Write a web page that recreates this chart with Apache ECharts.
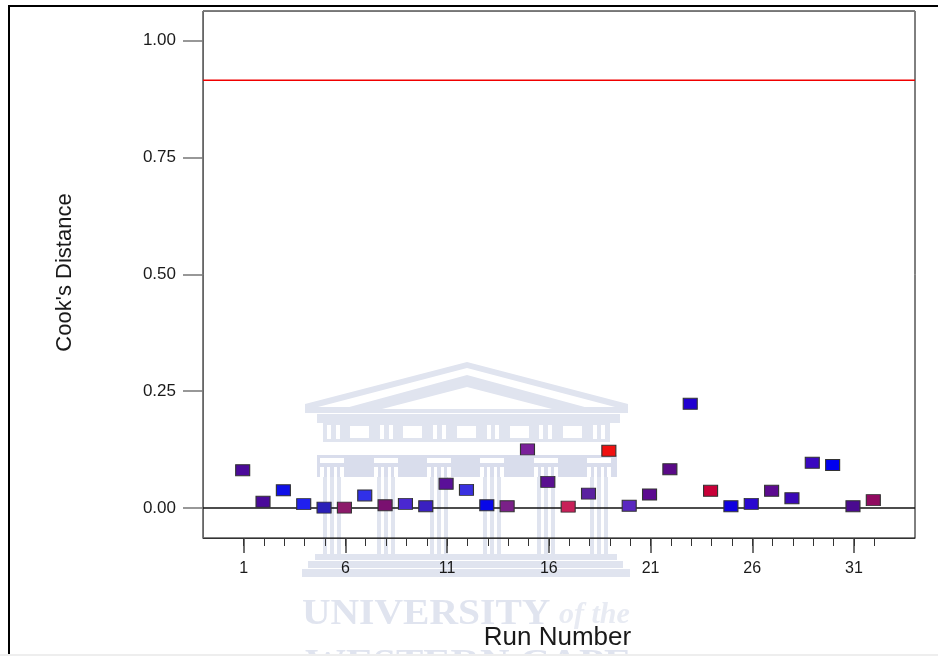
<!DOCTYPE html>
<html>
<head>
<meta charset="utf-8">
<style>html,body{margin:0;padding:0;background:#fff}#c{width:938px;height:656px}</style>
<script src="https://cdn.jsdelivr.net/npm/echarts@6/dist/echarts.min.js"></script>
</head>
<body>
<div id="c"></div>
<script>
const runs = Array.from({length: 32}, (_, i) => i + 1);
const cooks = [0.081,0.0135,0.038,0.0085,0.001,0.001,0.027,0.006,0.009,0.004,0.052,0.039,0.006,0.004,0.1255,0.056,0.003,0.031,0.1226,0.005,0.029,0.083,0.223,0.037,0.004,0.009,0.037,0.021,0.097,0.092,0.004,0.017];
const colours = ['#4b0a9a','#4a0a9a','#1010e8','#2020f0','#2a20b8','#8c1a6a','#3030e8','#7a1070','#4a28d0','#3a20c0','#5a1098','#3a30e0','#0808e8','#7a2088','#7a209a','#5a1090','#c82058','#5a20a0','#f01010','#5a28c0','#5c0a90','#5a0a88','#2000d0','#c80038','#1000e0','#2a08d0','#5c0a90','#3a08b8','#3a08c0','#0000f0','#4a0a90','#900a60'];
const xLabels = [1,6,11,16,21,26,31];
const yLabels = [0,0.25,0.5,0.75,1];
const limitLine = [[-1,0.915],[34,0.915]];
const zeroLine = [[-1,0],[34,0]];

const wm = '#e0e4ef';
const wmDark = '#d9ddec';
const W = '#ffffff';
const els = [];
function box(x, y, w, h, fill) { els.push({type:'rect', z:-5, silent:true, shape:{x, y, width:w, height:h}, style:{fill}}); }
function poly(points, fill) { els.push({type:'polygon', z:-5, silent:true, shape:{points}, style:{fill}}); }

// watermark: pediment
poly([[467,362],[628,404],[628,413],[305,413],[305,404]], wm);
poly([[467,368],[615,407],[318,407]], W);
poly([[467,375],[592,409],[342,409]], wm);
poly([[467,387],[552,409],[382,409]], W);
box(317,414,303,9,wm);
box(323,423,287,19,wm);
[350,403,457,510,563].forEach(x => box(x,426,19,12,W));
[327,336,380,389,433,442,487,495,539,548,593,601].forEach(x => box(x,425,4,14,W));
box(325,442,285,13,W);
box(317,455,300,22,wmDark);
const colCentres = [332,386,439,492,546,599];
colCentres.forEach(c => {
  box(c-12,458,24,5,W);
  box(c-12,467,4,88,W);
  box(c-5,467,3,88,W);
  box(c+2,467,3,88,W);
  box(c+8,467,4,88,W);
  [c-9,c-2,c+5].forEach(x => box(x,477,3+1,78,wm));
});
box(315,554,302,6,wm);
box(308,561,315,7,wm);
box(302,569,328,8,wm);
els.push({type:'text', z:-5, silent:true, x:302, y:597, scaleX:1.13, style:{text:'UNIVERSITY', fill:wm, font:'bold 35px "Liberation Serif"'}});
els.push({type:'text', z:-5, silent:true, x:559, y:600, style:{text:'of the', fill:'#e8ebf3', font:'italic bold 30px "Liberation Serif"'}});
els.push({type:'text', z:-5, silent:true, x:305, y:647, scaleX:1.24, style:{text:'WESTERN CAPE', fill:wm, font:'bold 33px "Liberation Serif"'}});
// outer frame
box(8,5,2,651,'#000');
box(8,5,930,2,'#000');
box(0,654,938,2,'#eeeeee');

const chart = echarts.init(document.getElementById('c'), null, {renderer:'canvas'});
const font = {fontFamily:'"Liberation Sans"', color:'#1a1a1a'};
const hiddenLabel = {show:false};
chart.setOption({
  animation:false,
  graphic:{elements:els},
  grid:{left:203, right:23, top:11, bottom:118, show:true, borderColor:'#000', borderWidth:1, backgroundColor:'transparent'},
  xAxis:[
    {type:'value', min:-1, max:34, position:'bottom', name:'Run Number', nameLocation:'middle', nameGap:87,
     nameTextStyle:{...font, fontSize:26, padding:[0,3,0,0]},
     splitLine:{show:false},
     axisLine:{onZero:false, lineStyle:{color:'#333', width:1}},
     axisTick:{customValues:xLabels, length:15, lineStyle:{color:'#444', width:1.5}},
     axisLabel:{customValues:xLabels, ...font, fontSize:16, margin:23}},
    {type:'value', min:-1, max:34, position:'bottom',
     splitLine:{show:false},
     axisLine:{onZero:false, show:false},
     axisTick:{customValues:runs, length:8, lineStyle:{color:'#333', width:1}},
     axisLabel:hiddenLabel},
    {type:'value', min:-1, max:34, position:'top',
     splitLine:{show:false},
     axisLine:{onZero:false, show:true, lineStyle:{color:'#777', width:1}},
     axisTick:{show:false},
     axisLabel:hiddenLabel}
  ],
  yAxis:{type:'value', min:-0.064, max:1.063, name:"Cook's Distance", nameLocation:'middle', nameGap:127, nameRotate:90,
     nameTextStyle:{...font, fontSize:22, padding:[0,0,0,4]},
     splitLine:{show:false},
     axisLine:{onZero:false, lineStyle:{color:'#666', width:1}},
     axisTick:{customValues:yLabels, length:20, lineStyle:{color:'#777', width:1.5}},
     axisLabel:{customValues:yLabels, formatter:v => v.toFixed(2), ...font, fontSize:17, margin:27}},
  series:[
    {type:'line', name:'Limit', data:limitLine, symbol:'none', silent:true, z:3, lineStyle:{color:'#f00000', width:1.5}},
    {type:'line', name:'Zero', data:zeroLine, symbol:'none', silent:true, z:3, lineStyle:{color:'#111', width:1.5}},
    {type:'scatter', xAxisIndex:0, symbol:'rect', symbolSize:[14,11], symbolOffset:[-1,0], z:5,
     data:runs.map((r,i) => ({value:[r,cooks[i]], itemStyle:{color:colours[i]}})),
     itemStyle:{borderColor:'#333', borderWidth:1, opacity:1}}
  ]
});
</script>
</body>
</html>
